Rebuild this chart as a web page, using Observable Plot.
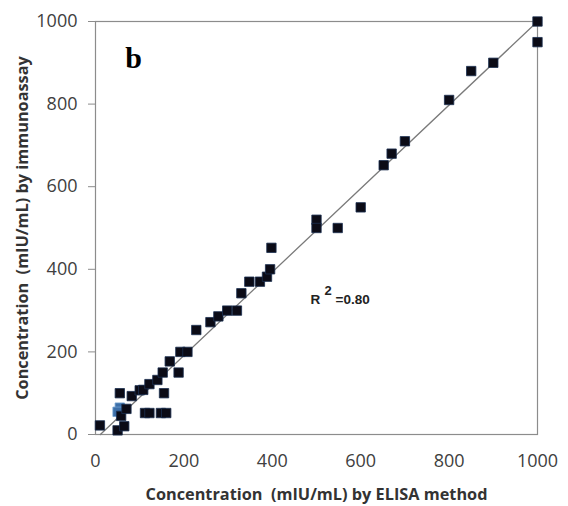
<!DOCTYPE html>
<html>
<head>
<meta charset="utf-8">
<script src="https://cdn.jsdelivr.net/npm/d3@7"></script>
<script src="https://cdn.jsdelivr.net/npm/@observablehq/plot@0.6"></script>
<style>
  html, body { margin: 0; padding: 0; background: #fff; }
  svg { display: block; }
</style>
</head>
<body>
<div id="chart"></div>
<script>
// ELISA concentration (x) vs immunoassay concentration (y), mIU/mL
const elisa = [10, 50, 65, 55, 50, 58, 70, 55, 82, 100, 108, 122, 140, 152, 155, 112, 122, 148, 160,
  168, 188, 192, 208, 228, 260, 278, 298, 320, 330, 348, 372, 388, 395, 398,
  500, 500, 548, 600, 652, 670, 700, 800, 850, 900, 1000, 1000];
const immuno = [22, 10, 20, 65, 55, 45, 62, 100, 93, 107, 108, 122, 132, 150, 100, 52, 52, 52, 52,
  177, 150, 200, 200, 253, 272, 286, 300, 300, 342, 370, 370, 382, 400, 452,
  520, 500, 500, 550, 652, 680, 710, 810, 880, 900, 1000, 950];
// points drawn with a bluish tint in the original (overlap highlight)
const tinted = [3, 4];

const fitX = [11, 1000];
const fitY = [0, 1000];

const xTicks = [0, 200, 400, 600, 800, 1000];
const yTicks = [0, 200, 400, 600, 800, 1000];

const xTitle = "Concentration  (mIU/mL) by ELISA method";
const yTitle = "Concentration  (mIU/mL) by immunoassay";
const panelLabel = "b";
const r2Value = "=0.80";

const points = elisa.map((x, i) => ({x, y: immuno[i], tint: tinted.includes(i)}));
const fit = fitX.map((x, i) => ({x, y: fitY[i]}));

const font = "'Open Sans', 'DejaVu Sans', sans-serif";
const arial = "'Liberation Sans', Arial, sans-serif";

const chart = Plot.plot({
  width: 568,
  height: 506,
  marginLeft: 95,
  marginRight: 31,
  marginTop: 21,
  marginBottom: 72,
  style: {fontFamily: font, background: "#fff"},
  x: {domain: [0, 1000]},
  y: {domain: [0, 1000]},
  marks: [
    Plot.frame({stroke: "#8c8c8c", strokeWidth: 1.2}),
    Plot.axisY({ticks: yTicks, tickSize: 7, tickPadding: 11, stroke: "#8c8c8c", fill: "#404040",
      fontSize: 18, label: null, tickFormat: d => String(d)}),
    Plot.axisX({ticks: xTicks, tickSize: 0, tickPadding: 20, fill: "#404040",
      fontSize: 18, label: null, tickFormat: d => String(d)}),
    Plot.line(fit, {x: "x", y: "y", stroke: "#7a7a7a", strokeWidth: 1.3}),
    Plot.dot(points, {x: "x", y: "y", symbol: "square", r: 5.3,
      fill: d => d.tint ? "#3d6fa8" : "#0b0b16",
      stroke: d => d.tint ? "#6f9fd0" : "#1c3050", strokeWidth: 0.8}),
    Plot.text([panelLabel], {x: 86, y: 910, text: d => d, fontFamily: "'Liberation Serif', 'Times New Roman', serif",
      fontWeight: "bold", fontSize: 30, fill: "#000"}),
    Plot.text(["R"], {x: 559, y: 330, text: d => d, dx: -32, dy: 1, fontFamily: arial,
      fontWeight: "bold", fontSize: 13.5, fill: "#222", textAnchor: "start"}),
    Plot.text(["2"], {x: 559, y: 330, text: d => d, dx: -18, dy: -7, fontFamily: arial,
      fontWeight: "bold", fontSize: 13, fill: "#222", textAnchor: "start"}),
    Plot.text([r2Value], {x: 559, y: 330, text: d => d, dx: -7, dy: 1, fontFamily: arial,
      fontWeight: "bold", fontSize: 13.5, fill: "#222", textAnchor: "start"}),
    Plot.text([xTitle], {frameAnchor: "bottom", dy: 65, text: d => d, textAnchor: "middle",
      fontWeight: "bold", fontSize: 16.3, fill: "#333"}),
    Plot.text([yTitle], {frameAnchor: "left", dx: -73, rotate: -90, text: d => d, textAnchor: "middle",
      fontWeight: "bold", fontSize: 16.3, fill: "#333"})
  ]
});
document.getElementById("chart").appendChild(chart);
</script>
</body>
</html>
